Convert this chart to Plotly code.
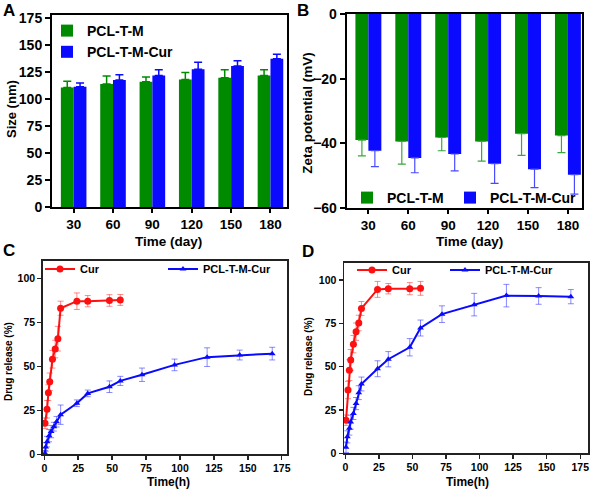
import plotly.graph_objects as go

W, H = 591, 490
FONT = "Liberation Sans, Arial, sans-serif"

# ---------------- data ----------------
days = [30, 60, 90, 120, 150, 180]
size_m = [110.9, 114.0, 116.2, 118.3, 119.9, 122.0]
size_m_err = [5.6, 7.4, 4.3, 6.5, 7.4, 5.3]
size_cur = [111.5, 117.7, 122.0, 127.6, 130.7, 137.5]
size_cur_err = [3.4, 5.0, 5.3, 6.5, 5.0, 4.1]

zeta_m = [-39.0, -39.4, -38.2, -39.4, -37.0, -37.6]
zeta_m_err = [4.9, 7.0, 4.1, 6.1, 6.7, 5.3]
zeta_cur = [-42.3, -44.5, -43.3, -46.3, -48.0, -49.7]
zeta_cur_err = [4.9, 4.6, 5.2, 6.1, 5.7, 6.0]

t_cur = [0.5, 2, 3, 4, 6, 8, 10, 12, 24, 32, 48, 56]
t_nano = [0.5, 1, 2, 3.5, 5, 7, 9, 12, 24, 32, 48, 56, 72, 96, 120, 144, 168]

c_cur = [17.6, 25.6, 35.0, 41.2, 54.0, 59.8, 65.7, 83.0, 87.0, 87.0, 87.4, 87.7]
c_cur_err = [3, 5, 4.5, 5, 5, 5, 7, 4, 4.7, 3.2, 3.3, 3.1]
c_nano = [0.6, 4.2, 7.2, 10.6, 12.9, 15.7, 18.5, 22.5, 29.0, 34.6, 38.4, 41.7,
          45.2, 50.8, 55.2, 56.4, 57.2]
c_nano_err = [1.5, 2.5, 3, 3.5, 3.5, 2.5, 3, 5.5, 1.9, 1.9, 3.3, 2.6,
              3.8, 3.3, 5.3, 2.8, 3.6]

d_cur = [19.1, 36.5, 48.0, 53.9, 63.0, 70.2, 75.2, 83.6, 94.6, 95.0, 95.0, 95.2]
d_cur_err = [3, 5, 6, 6, 5, 5, 4.5, 4, 4.6, 3, 3.5, 4]
t_nano_d = [0.5, 1.5, 3, 4, 6, 8, 10, 12, 24, 32, 48, 56, 72, 96, 120, 144, 168]
d_nano = [3.5, 9.5, 14.5, 18.0, 23.0, 28.7, 35.0, 40.0, 48.8, 54.3, 61.2, 72.3,
          80.3, 85.8, 91.0, 90.8, 90.4]
d_nano_err = [3, 3.5, 4, 4, 3.5, 3.5, 4, 4, 4.6, 4.4, 5, 4.6, 4.8, 6.5, 6.5, 4.8, 4.1]

GREEN = "#008a00"
BLUE = "#0a0aff"
RED = "#ff1010"

def px(x):
    return x / W

def py(y):
    return 1 - y / H

fig = go.Figure()

# ---------------- A ----------------
fig.add_trace(go.Bar(x=days, y=size_m, name="PCL-T-M", marker_color=GREEN,
                     marker_line_width=0, offsetgroup="a1",
                     error_y=dict(type="data", array=size_m_err, arrayminus=[0]*6,
                                  color=GREEN, thickness=1.5, width=4),
                     xaxis="x", yaxis="y", legend="legend"))
fig.add_trace(go.Bar(x=days, y=size_cur, name="PCL-T-M-Cur", marker_color=BLUE,
                     marker_line_width=0, offsetgroup="a2",
                     error_y=dict(type="data", array=size_cur_err, arrayminus=[0]*6,
                                  color=BLUE, thickness=1.5, width=4),
                     xaxis="x", yaxis="y", legend="legend"))

# ---------------- B ----------------
fig.add_trace(go.Bar(x=days, y=zeta_m, name="PCL-T-M", marker_color=GREEN,
                     marker_line_width=0, offsetgroup="b1",
                     error_y=dict(type="data", array=[0]*6, arrayminus=zeta_m_err,
                                  color="#3aa83a", thickness=1.2, width=4),
                     xaxis="x2", yaxis="y2", legend="legend2"))
fig.add_trace(go.Bar(x=days, y=zeta_cur, name="PCL-T-M-Cur", marker_color=BLUE,
                     marker_line_width=0, offsetgroup="b2",
                     error_y=dict(type="data", array=[0]*6, arrayminus=zeta_cur_err,
                                  color="#4a4aff", thickness=1.2, width=4),
                     xaxis="x2", yaxis="y2", legend="legend3"))

# ---------------- C ----------------
fig.add_trace(go.Scatter(x=t_cur, y=c_cur, name="Cur", mode="lines+markers",
                         line=dict(color=RED, width=2),
                         marker=dict(symbol="circle", size=7, color=RED),
                         error_y=dict(type="data", array=c_cur_err,
                                      color="rgba(255,60,60,0.6)", thickness=1, width=3),
                         xaxis="x3", yaxis="y3", legend="legend4"))
fig.add_trace(go.Scatter(x=t_nano, y=c_nano, name="PCL-T-M-Cur", mode="lines+markers",
                         line=dict(color=BLUE, width=2),
                         marker=dict(symbol="triangle-up", size=6, color=BLUE),
                         error_y=dict(type="data", array=c_nano_err,
                                      color="rgba(60,60,255,0.6)", thickness=1, width=3),
                         xaxis="x3", yaxis="y3", legend="legend5"))

# ---------------- D ----------------
fig.add_trace(go.Scatter(x=t_cur, y=d_cur, name="Cur", mode="lines+markers",
                         line=dict(color=RED, width=2),
                         marker=dict(symbol="circle", size=7, color=RED),
                         error_y=dict(type="data", array=d_cur_err,
                                      color="rgba(255,60,60,0.6)", thickness=1, width=3),
                         xaxis="x4", yaxis="y4", legend="legend6"))
fig.add_trace(go.Scatter(x=t_nano_d, y=d_nano, name="PCL-T-M-Cur", mode="lines+markers",
                         line=dict(color=BLUE, width=2),
                         marker=dict(symbol="triangle-up", size=6, color=BLUE),
                         error_y=dict(type="data", array=d_nano_err,
                                      color="rgba(60,60,255,0.6)", thickness=1, width=3),
                         xaxis="x4", yaxis="y4", legend="legend7"))

bold = lambda s: dict(family=FONT, size=s, color="black", weight="bold")

def ax(domain, rng, tickvals, fs, lw, tl, anchor, color="black"):
    return dict(domain=domain, range=rng, tickvals=tickvals, tickfont=bold(fs),
                showline=True, linecolor=color, linewidth=lw, mirror=True,
                ticks="outside", ticklen=tl, tickwidth=lw, tickcolor=color,
                showgrid=False, zeroline=False, anchor=anchor, fixedrange=True,
                automargin=False)

yt_bar = [0, 25, 50, 75, 100, 125, 150, 175]
xt_rel = [0, 25, 50, 75, 100, 125, 150, 175]
yt_rel = [0, 25, 50, 75, 100]

fig.update_layout(
    template="none",
    width=W, height=H, margin=dict(l=0, r=0, t=0, b=0, autoexpand=False),
    paper_bgcolor="white", plot_bgcolor="white",
    barmode="group", bargap=0.35, bargroupgap=0,
    xaxis=ax([px(52), px(287)], [13.5, 192.6], days, 13.5, 2, 4, "y"),
    yaxis=ax([py(207), py(15)], [0, 178], yt_bar, 14, 2, 5, "x"),
    xaxis2=ax([px(346.7), px(582.3)], [13.7, 190.8], days, 13.5, 2, 4, "y2"),
    yaxis2=ax([py(208), py(14)], [-60, 0], [0, -20, -40, -60], 14, 2, 5, "x2"),
    xaxis3=ax([px(42.7), px(287.3)], [-1.2, 179.1], xt_rel, 10.5, 1.5, 4, "y3", "#222"),
    yaxis3=ax([py(454.3), py(260.7)], [0, 110], yt_rel, 10.5, 1.5, 4, "x3", "#222"),
    xaxis4=ax([px(344), px(588.3)], [-1, 181], xt_rel, 10.5, 1.5, 4, "y4", "#222"),
    yaxis4=ax([py(453.3), py(262.7)], [0, 110], yt_rel, 10.5, 1.5, 4, "x4", "#222"),
    showlegend=True,
)

def leg(x, y, fs, yanchor="middle", orient="h"):
    return dict(x=px(x), y=py(y), xanchor="left", yanchor=yanchor,
                orientation=orient, font=bold(fs), bgcolor="rgba(0,0,0,0)",
                borderwidth=0, itemclick=False, itemdoubleclick=False,
                tracegroupgap=0)

fig.update_layout(
    legend=leg(47, 15, 14, yanchor="top", orient="v"),
    legend2=leg(347, 198, 14),
    legend3=leg(450, 198, 14),
    legend4=leg(40, 269, 11),
    legend5=leg(163, 269, 11),
    legend6=leg(352, 270, 11),
    legend7=leg(445, 270, 11),
)

annots = []
def txt(x, y, s, fs, angle=0):
    annots.append(dict(x=px(x), y=py(y), xref="paper", yref="paper", text=s,
                       showarrow=False, font=bold(fs), textangle=angle,
                       xanchor="center", yanchor="middle"))

txt(9, 10, "A", 17)
txt(303, 10, "B", 17)
txt(9, 250, "C", 17)
txt(308, 252, "D", 17)
txt(11, 109, "Size (nm)", 13, -90)
txt(168, 242, "Time (day)", 13.5)
txt(306.7, 113, "Zeta potential (mV)", 13.5, -90)
txt(469, 242, "Time (day)", 13.5)
txt(8, 362, "Drug release (%)", 10, -90)
txt(168, 482, "Time(h)", 12)
txt(308, 357, "Drug release (%)", 10, -90)
txt(467, 482, "Time(h)", 12)
fig.update_layout(annotations=annots)

fig.write_html(
    "out.html",
    config={"displayModeBar": False, "staticPlot": True},
    post_script="document.body.style.margin='0';document.body.style.padding='0';"
                "document.body.style.overflow='hidden';",
)
